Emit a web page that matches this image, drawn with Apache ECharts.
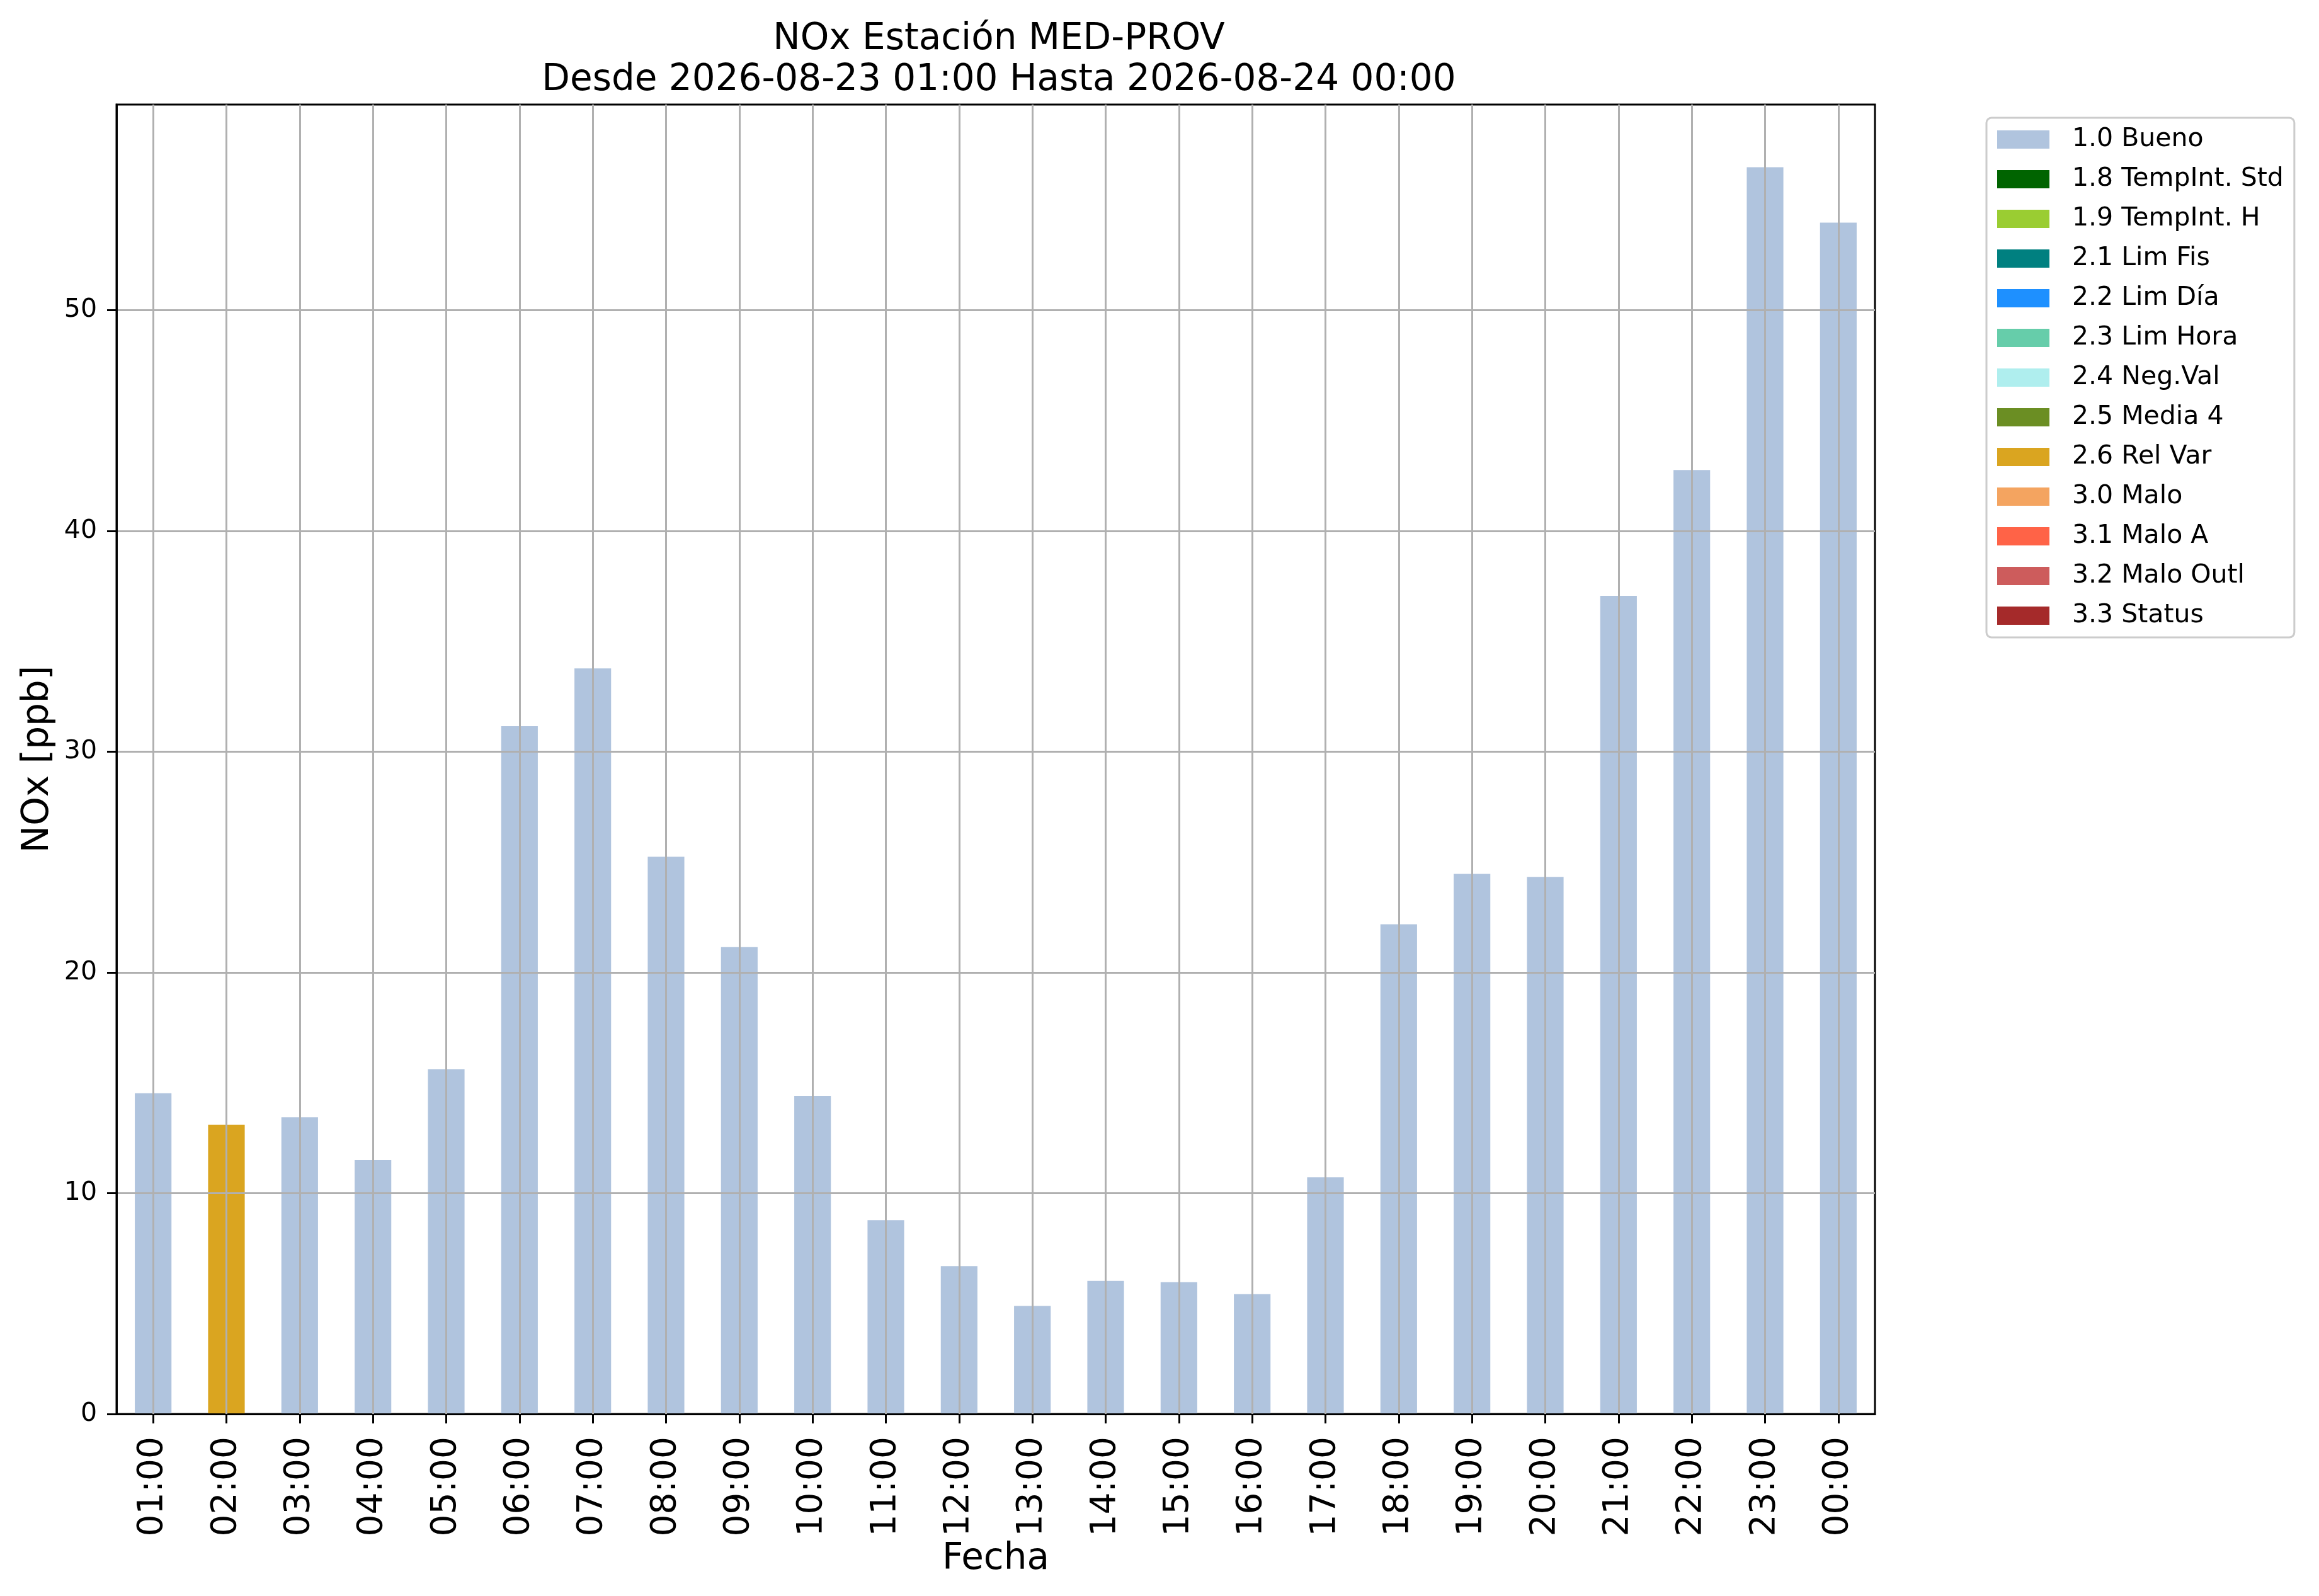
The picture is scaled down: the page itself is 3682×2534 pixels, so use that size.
<!DOCTYPE html>
<html lang="es">
<head>
    <meta charset="UTF-8">
    <title>NOx Estación MED-PROV</title>
    <script src="https://cdn.jsdelivr.net/npm/echarts@6/dist/echarts.min.js"></script>
    <style>
        html, body { margin: 0; padding: 0; background: #fff; }
        #chart { width: 3682px; height: 2534px; }
    </style>
</head>
<body>
    <div id="chart"></div>

    <script>
        // horas del eje x
        const hours = ['01:00', '02:00', '03:00', '04:00', '05:00', '06:00', '07:00', '08:00',
            '09:00', '10:00', '11:00', '12:00', '13:00', '14:00', '15:00', '16:00',
            '17:00', '18:00', '19:00', '20:00', '21:00', '22:00', '23:00', '00:00'];

        // valores NOx [ppb]
        const noxValues = [14.53, 13.10, 13.44, 11.50, 15.62, 31.15, 33.77, 25.24,
            21.15, 14.41, 8.78, 6.70, 4.89, 6.03, 5.97, 5.43,
            10.72, 22.18, 24.46, 24.33, 37.06, 42.76, 56.47, 53.96];

        // bandera de calidad de cada hora
        const hourFlags = ['1.0 Bueno', '2.6 Rel Var', '1.0 Bueno', '1.0 Bueno', '1.0 Bueno', '1.0 Bueno',
            '1.0 Bueno', '1.0 Bueno', '1.0 Bueno', '1.0 Bueno', '1.0 Bueno', '1.0 Bueno',
            '1.0 Bueno', '1.0 Bueno', '1.0 Bueno', '1.0 Bueno', '1.0 Bueno', '1.0 Bueno',
            '1.0 Bueno', '1.0 Bueno', '1.0 Bueno', '1.0 Bueno', '1.0 Bueno', '1.0 Bueno'];

        // leyenda y colores
        const flagNames = ['1.0 Bueno', '1.8 TempInt. Std', '1.9 TempInt. H', '2.1 Lim Fis', '2.2 Lim Día',
            '2.3 Lim Hora', '2.4 Neg.Val', '2.5 Media 4', '2.6 Rel Var', '3.0 Malo',
            '3.1 Malo A', '3.2 Malo Outl', '3.3 Status'];
        const flagColors = ['#b0c4de', '#006400', '#9acd32', '#008080', '#1e90ff',
            '#66cdaa', '#afeeee', '#6b8e23', '#daa520', '#f4a460',
            '#ff6347', '#cd5c5c', '#a52a2a'];

        const yTicks = [0, 10, 20, 30, 40, 50];
        const yMax = 59.31;

        const gridColor = '#b0b0b0';
        const font = 'DejaVu Sans';

        const chart = echarts.init(document.getElementById('chart'), null, { renderer: 'canvas' });

        // una serie apilada por bandera
        const series = flagNames.map((name, i) => ({
            name: name,
            type: 'bar',
            stack: 'total',
            barWidth: '50%',
            itemStyle: { color: flagColors[i] },
            data: noxValues.map((v, k) => hourFlags[k] === name ? v : null)
        }));

        // líneas verticales de rejilla en el centro de cada categoría
        series[0].markLine = {
            silent: true,
            symbol: 'none',
            animation: false,
            label: { show: false },
            lineStyle: { color: gridColor, width: 3, type: 'solid' },
            data: hours.map(h => ({ xAxis: h }))
        };

        const option = {
            animation: false,
            backgroundColor: '#ffffff',
            textStyle: { fontFamily: font },
            title: {
                text: 'NOx Estación MED-PROV\nDesde 2026-08-23 01:00 Hasta 2026-08-24 00:00',
                left: 1581,
                top: 25,
                textAlign: 'center',
                textStyle: { fontFamily: font, fontSize: 58, fontWeight: 'normal', color: '#000', lineHeight: 65 }
            },
            legend: {
                orient: 'vertical',
                left: 3154,
                top: 187,
                padding: [14, 17, 14, 17],
                itemWidth: 83,
                itemHeight: 29,
                itemGap: 22,
                icon: 'rect',
                backgroundColor: '#ffffff',
                borderColor: '#cccccc',
                borderWidth: 3,
                borderRadius: 8,
                selectedMode: false,
                data: flagNames,
                textStyle: { fontFamily: font, fontSize: 41, color: '#000', padding: [0, 0, 0, 31] }
            },
            grid: {
                left: 185,
                right: 705,
                top: 166,
                bottom: 289,
                show: true,
                borderColor: '#000',
                borderWidth: 3,
                containLabel: false
            },
            xAxis: {
                type: 'category',
                data: hours,
                z: 3,
                name: 'Fecha',
                nameLocation: 'middle',
                nameGap: 198,
                nameTextStyle: { fontFamily: font, fontSize: 58, color: '#000' },
                axisLine: { show: true, lineStyle: { color: '#000', width: 3 } },
                axisTick: { show: true, alignWithLabel: true, length: 15, lineStyle: { color: '#000', width: 3 } },
                axisLabel: { rotate: 90, margin: 36, fontFamily: font, fontSize: 55, color: '#000', interval: 0 },
                splitLine: { show: false }
            },
            yAxis: {
                type: 'value',
                min: 0,
                max: yMax,
                interval: 10,
                z: 3,
                name: 'NOx [ppb]',
                nameLocation: 'middle',
                nameRotate: 90,
                nameGap: 95,
                nameTextStyle: { fontFamily: font, fontSize: 58, color: '#000' },
                axisLine: { show: true, lineStyle: { color: '#000', width: 3 } },
                axisTick: { show: true, length: 15, customValues: yTicks, lineStyle: { color: '#000', width: 3 } },
                axisLabel: {
                    margin: 31, fontFamily: font, fontSize: 41, color: '#000',
                    customValues: yTicks,
                    formatter: v => (v % 10 === 0 ? String(v) : '')
                },
                splitLine: { show: true, lineStyle: { color: gridColor, width: 3 } }
            },
            series: series
        };

        chart.setOption(option);
    </script>
</body>
</html>
